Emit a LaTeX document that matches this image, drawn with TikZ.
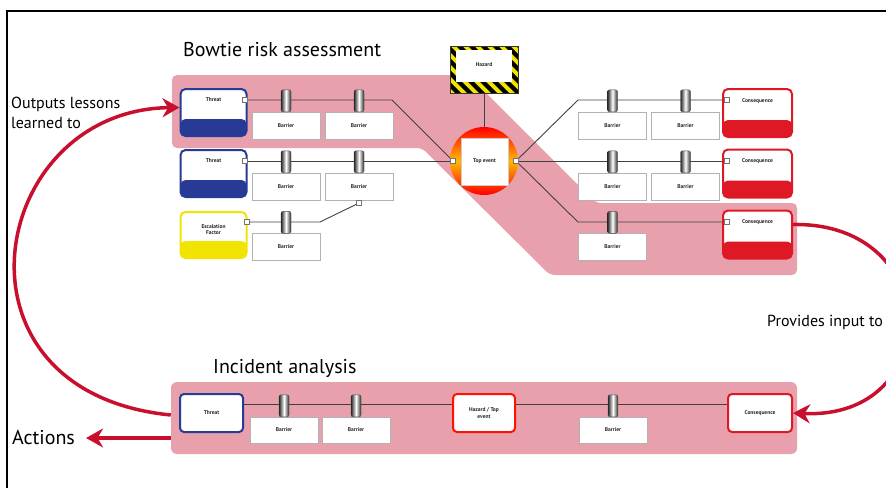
\documentclass[tikz,border=0pt]{standalone}
\usepackage{fontspec}
\setmainfont{PT Sans}
\usepackage{tikz}
\usetikzlibrary{arrows.meta,shadows,positioning}
\definecolor{bandpink}{RGB}{232,160,172}
\definecolor{threatblue}{RGB}{38,58,150}
\definecolor{consred}{RGB}{222,24,36}
\definecolor{escyellow}{RGB}{240,228,0}
\definecolor{loopred}{RGB}{200,16,46}
\pgfdeclarelayer{back}
\pgfdeclarelayer{mid}
\pgfsetlayers{back,mid,main}

\tikzstyle{boxtext} = [font=\fontsize{5.5}{6.5}\selectfont\bfseries, text=black!85, align=center]
\tikzstyle{barrier} = [draw=black!30, fill=white, minimum width=68pt, minimum height=27pt, inner sep=0pt, boxtext, drop shadow={opacity=0.3, shadow xshift=0.8pt, shadow yshift=-0.8pt}]
\tikzstyle{knob} = [draw=black!70, rounded corners=2pt, minimum width=10pt, minimum height=22pt, inner sep=0pt, left color=black!85, right color=black!85, middle color=white]
\tikzstyle{port} = [draw=black!55, fill=white, minimum size=5pt, inner sep=0pt]
\tikzstyle{link} = [black!75, line width=0.9pt]
\tikzstyle{loop} = [loopred, line width=3.5pt, -{Stealth[length=17pt,width=19pt]}]
\tikzstyle{heading} = [font=\fontsize{20}{22}\selectfont, anchor=west, inner sep=0pt]
\tikzstyle{side} = [font=\fontsize{16}{20}\selectfont, align=left, inner sep=0pt]

\tikzset{
  tagbox/.style n args={3}{rounded corners=5pt, draw=#1, line width=2pt, fill=white, inner sep=0pt,
    minimum width=66pt, minimum height=47pt,
    path picture={\shade[top color=white, bottom color=#1, middle color=#1]
      ([yshift=17pt]path picture bounding box.south west) rectangle (path picture bounding box.south east);},
    label={[boxtext, yshift=#3]center:#2}},
  flatbox/.style={rounded corners=4pt, draw=#1, line width=2pt, fill=white, inner sep=0pt,
    minimum width=63pt, minimum height=38pt, boxtext},
  hazard/.style={minimum width=68pt, minimum height=47pt, inner sep=0pt, draw=black!80,
    path picture={
      \fill[escyellow] (path picture bounding box.south west) rectangle (path picture bounding box.north east);
      \foreach \s in {-54,-42,...,66}
        \fill[black] ([xshift=\s pt]path picture bounding box.north west) -- ++(6pt,0pt) -- ++(47pt,-47pt) -- ++(-6pt,0pt) -- cycle;
      \fill[white] ([xshift=6pt,yshift=-4pt]path picture bounding box.north west) rectangle ([xshift=-6pt,yshift=11pt]path picture bounding box.south east);},
    label={[boxtext, yshift=4.5pt]center:#1}}
}

\begin{document}
\begin{tikzpicture}[x=1pt, y=-1pt]
\useasboundingbox (0,0) rectangle (886,488);
% frame
\draw[line width=1.5pt] (7,488) -- (7,11) -- (886,11);

% pink bands
\begin{pgfonlayer}{back}
\fill[bandpink, rounded corners=5pt] (172,75) -- (468,75) -- (596,203) -- (797,203) -- (797,275) -- (550,275) -- (422,148) -- (172,148) -- cycle;
\node[fill=bandpink, rounded corners=6pt, minimum width=626pt, minimum height=72pt, inner sep=0pt] (ia) at (484,418) {};
\end{pgfonlayer}

% titles
\node[heading] (bt) at (183,50) {Bowtie risk assessment};
\node[heading] (it) at (213,368) {Incident analysis};

% threats and escalation factor
\node[tagbox={threatblue}{Threat}{12.5pt}] (t1) at (213.5,112.5) {};
\node[tagbox={threatblue}{Threat}{12.5pt}] (t2) at (213.5,173.5) {};
\node[tagbox={escyellow}{Escalation\\Factor}{5.5pt}, minimum height=46pt] (e1) at (213.5,235) {};
\node[port] (p1) at (245,100) {};
\node[port] (p2) at (245,161) {};
\node[port] (p3) at (247,222) {};

% left barriers
\node[barrier] (b11) at (286,125.5) {Barrier};
\node[barrier] (b12) at (359,125.5) {Barrier};
\node[barrier] (b21) at (286,186.5) {Barrier};
\node[barrier] (b22) at (359,186.5) {Barrier};
\node[barrier] (b31) at (286,247) {Barrier};
\node[port] (p4) at (359,203) {};

% hazard and top event
\node[hazard=Hazard] (hz) at (484,69.5) {};
\node[circle, minimum size=68pt, inner sep=0pt, top color=red, bottom color=red, middle color=yellow!45!orange] (tc) at (484,161) {};
\node[draw=black!20, fill=white, minimum size=47pt, inner sep=0pt, boxtext] (te) at (484.5,161.5) {Top event};
\node[port] (tel) at (453,161) {};
\node[port] (ter) at (516,161) {};

% right barriers
\node[barrier] (b41) at (612.5,125.5) {Barrier};
\node[barrier] (b42) at (685.5,125.5) {Barrier};
\node[barrier] (b51) at (612.5,186.5) {Barrier};
\node[barrier] (b52) at (685.5,186.5) {Barrier};
\node[barrier] (b61) at (612.5,247) {Barrier};

% consequences
\node[tagbox={consred}{Consequence}{12pt}, minimum width=69pt, minimum height=48pt] (c1) at (757.5,113) {};
\node[tagbox={consred}{Consequence}{12pt}, minimum width=69pt, minimum height=48pt] (c2) at (757.5,173.5) {};
\node[tagbox={consred}{Consequence}{12pt}, minimum width=69pt, minimum height=48pt] (c3) at (757.5,234.5) {};
\node[port] (q1) at (727,100) {};
\node[port] (q2) at (727,161) {};
\node[port] (q3) at (727,222) {};

% incident analysis row
\node[flatbox=threatblue] (lt) at (211.5,413) {Threat};
\node[barrier, minimum height=26pt] (b71) at (284,430) {Barrier};
\node[barrier, minimum height=26pt] (b72) at (356,430) {Barrier};
\node[flatbox=consred, draw=red!85!orange, minimum width=62pt] (lh) at (484,413) {Hazard / Top\\event};
\node[barrier, minimum height=26pt] (b73) at (613,430) {Barrier};
\node[flatbox=consred, minimum width=64pt] (lc) at (760,413) {Consequence};

% knobs on the barriers
\foreach \b in {b11,b12,b21,b22,b31,b41,b42,b51,b52,b61,b71,b72,b73}
  \node[knob] (k\b) at ([yshift=11pt]\b.north) {};

% links
\begin{pgfonlayer}{mid}
\draw[link] (p1) -- (392,100) -- (tel);
\draw[link] (p2) -- (tel);
\draw[link] (p3) -- (320,222) -- (p4);
\draw[link] (hz.south) -- (tc.north);
\draw[link] (ter) -- (578,100) -- (q1);
\draw[link] (ter) -- (q2);
\draw[link] (ter) -- (578,222) -- (q3);
\draw[link] ([yshift=-11pt]lt.north east) -- ([yshift=-11pt]lh.north west);
\draw[link] ([yshift=-11pt]lh.north east) -- ([yshift=-11pt]lc.north west);
\end{pgfonlayer}

% loop arrows and their texts
\node[side, anchor=west] (olt) at (11,113) {Outputs lessons\\learned to};
\node[side, anchor=west] (pit) at (767,322) {Provides input to};
\node[heading] (act) at (12,438) {Actions};
\draw[loop] ([yshift=3pt]ia.west) .. controls (-62,392) and (-12,110) .. ([yshift=5pt]t1.west);
\draw[loop] ([yshift=10pt]c3.east) .. controls (945,222) and (945,420) .. (lc.east);
\draw[loop] ([yshift=-20pt]ia.west) -- ([xshift=11pt]act.east);
\end{tikzpicture}
\end{document}
